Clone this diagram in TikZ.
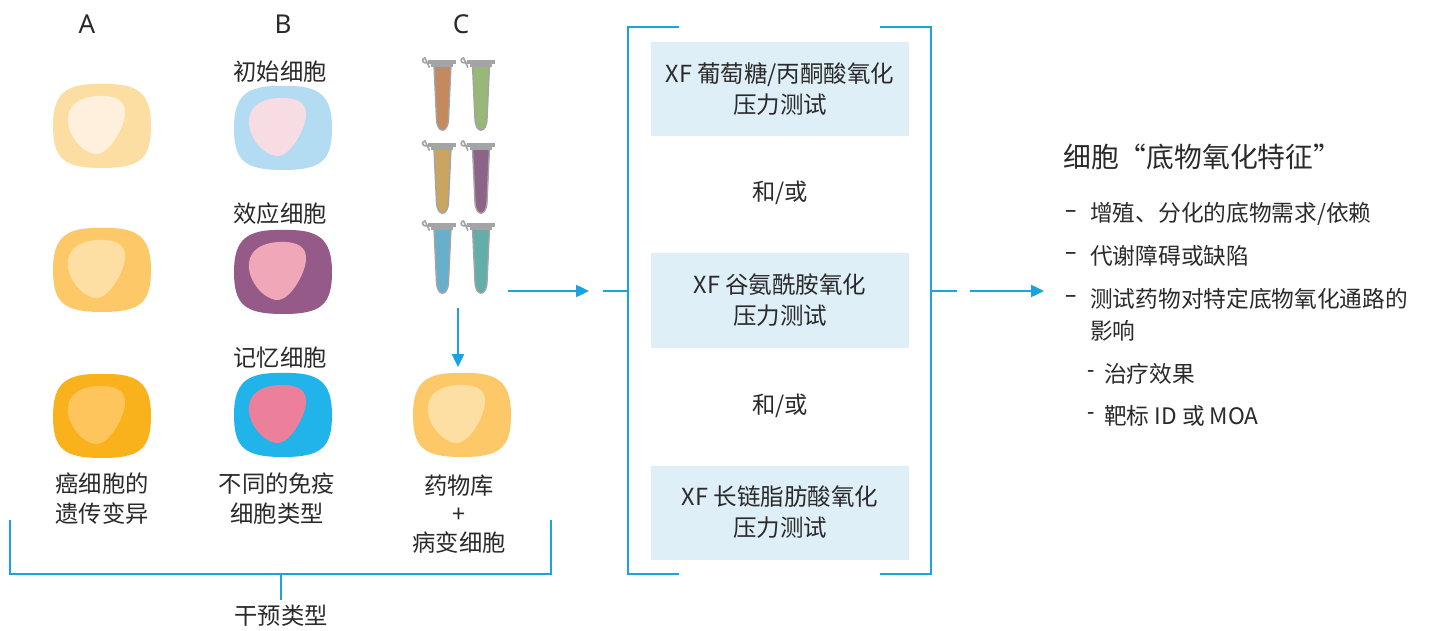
\documentclass[tikz,border=0pt]{standalone}
\usepackage{fontspec}
\setmainfont{Noto Sans CJK SC}
\newfontfamily\latinfont{Noto Sans}
\usetikzlibrary{arrows.meta}

\definecolor{txt}{HTML}{2A2A2A}
\definecolor{lineblue}{HTML}{1BA3E0}
\definecolor{boxfill}{HTML}{DFEFF8}
\definecolor{capgray}{HTML}{A3A4A6}
% cell colours
\definecolor{aOneOut}{HTML}{FDDEA2}\definecolor{aOneIn}{HTML}{FEF0DC}
\definecolor{aTwoOut}{HTML}{FDC968}\definecolor{aTwoIn}{HTML}{FDDFA4}
\definecolor{aThrOut}{HTML}{F9B11C}\definecolor{aThrIn}{HTML}{FDC55C}
\definecolor{bOneOut}{HTML}{B3DBF2}\definecolor{bOneIn}{HTML}{F8DCE3}
\definecolor{bTwoOut}{HTML}{955A87}\definecolor{bTwoIn}{HTML}{F0A7B8}
\definecolor{bThrOut}{HTML}{20B4EA}\definecolor{bThrIn}{HTML}{EC809B}
% tube colours
\definecolor{tOne}{HTML}{C48A5E}\definecolor{tTwo}{HTML}{97B876}
\definecolor{tThr}{HTML}{C9A561}\definecolor{tFou}{HTML}{8E6388}
\definecolor{tFiv}{HTML}{67AFCB}\definecolor{tSix}{HTML}{63AEA9}

% a cell: rounded outer body with a rounded-triangle nucleus
\newcommand\cellblob[4]{%
\begin{scope}[shift={(#1,#2)}]
\fill[#3] (0,-42) .. controls (36,-43) and (49,-33) .. (49,0)
  .. controls (49,33) and (38,42) .. (0,42)
  .. controls (-38,42) and (-49,33) .. (-49,0)
  .. controls (-49,-33) and (-36,-43) .. (0,-42) -- cycle;
\fill[#4] (-5,-30) .. controls (15,-31) and (24,-25) .. (23,-12)
  .. controls (22,2) and (8,26) .. (-4,28)
  .. controls (-14,29) and (-28,18) .. (-33,2)
  .. controls (-37,-12) and (-32,-28) .. (-5,-30) -- cycle;
\end{scope}}

% a sample tube: grey cap with hinge loop and a tapered coloured body
\newcommand\tubeat[3]{%
\begin{scope}[shift={(#1,#2)}]
\filldraw[draw=capgray, line width=1.4pt, fill=#3]
  (-8.5,5) -- (-6,59) .. controls (-5.5,74) and (5.5,74) .. (6,59) -- (8.5,5) -- cycle;
\draw[capgray, line width=1.6pt] (-13,2.8) -- (-17.5,2.8) arc[start angle=90, end angle=270, radius=2.4] -- (-13,7.6);
\fill[capgray] (-14.5,0) rectangle (13.5,4.5);
\fill[capgray] (-11.5,4) rectangle (10.5,7.5);
\end{scope}}

\tikzset{
  lbl/.style={text=txt, font=\fontsize{23.3}{30}\selectfont, align=center, inner sep=0pt},
  head/.style={text=txt, font=\latinfont\fontsize{26}{30}\selectfont, inner sep=0pt},
  boxtxt/.style={lbl, fill=boxfill, minimum width=258pt, minimum height=94pt, font=\fontsize{23.5}{31}\selectfont},
  item/.style={text=txt, font=\fontsize{22.7}{32}\selectfont, anchor=west, inner sep=0pt},
  dashmark/.style={item, font=\latinfont\fontsize{22.7}{32}\selectfont},
  blueline/.style={draw=lineblue, line width=2.4pt},
  bluearrow/.style={blueline, -{Triangle[length=13pt, width=12pt]}},
}

\begin{document}
\begin{tikzpicture}[x=1pt, y=-1pt]
\useasboundingbox[fill=white] (0,0) rectangle (1441,631);

% column headings
\node[head] (hA) at (87,24) {A};
\node[head] (hB) at (283,24) {B};
\node[head] (hC) at (461,24) {C};

% column A cells
\cellblob{102}{126}{aOneOut}{aOneIn}
\cellblob{102}{270}{aTwoOut}{aTwoIn}
\cellblob{102}{416}{aThrOut}{aThrIn}
\node[lbl] (labA) at (102,499) {癌细胞的\\遗传变异};

% column B cells
\node[lbl] (labB1) at (280,72) {初始细胞};
\cellblob{283}{128}{bOneOut}{bOneIn}
\node[lbl] (labB2) at (280,214) {效应细胞};
\cellblob{283}{272}{bTwoOut}{bTwoIn}
\node[lbl] (labB3) at (280,358) {记忆细胞};
\cellblob{283}{415}{bThrOut}{bThrIn}
\node[lbl] (labB) at (277,499) {不同的免疫\\细胞类型};

% column C: drug library tubes and the target cell
\tubeat{442.5}{60}{tOne}
\tubeat{481}{60}{tTwo}
\tubeat{442.5}{143}{tThr}
\tubeat{481}{143}{tFou}
\tubeat{442.5}{223}{tFiv}
\tubeat{481}{223}{tSix}
\cellblob{462}{415}{aTwoOut}{aTwoIn}
\node[lbl, font=\fontsize{23.3}{28.5}\selectfont] (labC) at (459,514) {药物库\\+\\病变细胞};

% intervention bracket
\coordinate (brL) at (10,520);
\coordinate (brR) at (551,520);
\coordinate (brStem) at (281,600);
\draw[blueline] (brL) -- (10,574) -- (551,574) -- (brR);
\draw[blueline] (281,574) -- (brStem);
\node[lbl] (labInt) at (281,616) {干预类型};

% arrows from the tubes
\coordinate (tubesDown) at (458,308);
\coordinate (cellTop) at (458,367);
\draw[bluearrow] (tubesDown) -- (cellTop);
\coordinate (tubesOut) at (508,291);
\coordinate (assayIn) at (589,291);
\draw[bluearrow] (tubesOut) -- (assayIn);

% assay bracket
\coordinate (stubL) at (603,291);
\coordinate (brkL) at (628,291);
\draw[blueline] (stubL) -- (brkL);
\draw[blueline] (679,27) -- (628,27) -- (628,574) -- (679,574);
\draw[blueline] (880,27) -- (931,27) -- (931,574) -- (880,574);

\node[boxtxt] (glu) at (780,89) {XF 葡萄糖/丙酮酸氧化\\压力测试};
\node[lbl] (or1) at (780,193) {和/或};
\node[boxtxt] (gln) at (780,300.5) {XF 谷氨酰胺氧化\\压力测试};
\node[lbl] (or2) at (780,406) {和/或};
\node[boxtxt] (fa) at (780,512.5) {XF 长链脂肪酸氧化\\压力测试};

% output arrow
\coordinate (brkR) at (931,291);
\coordinate (stubR) at (957,291);
\draw[blueline] (brkR) -- (stubR);
\coordinate (outA) at (970,291);
\coordinate (outB) at (1044,291);
\draw[bluearrow] (outA) -- (outB);

% result list
\node[item, font=\fontsize{27.8}{32}\selectfont] (title) at (1063,157) {细胞“底物氧化特征”};
\node[dashmark] (d1) at (1065,214) {–};
\node[item] (i1) at (1090,214) {增殖、分化的底物需求/依赖};
\node[dashmark] (d2) at (1065,256) {–};
\node[item] (i2) at (1090,256) {代谢障碍或缺陷};
\node[dashmark] (d3) at (1065,299) {–};
\node[item] (i3) at (1090,299) {测试药物对特定底物氧化通路的};
\node[item] (i3b) at (1090,331) {影响};
\node[dashmark] (d4) at (1087,374) {-};
\node[item] (i4) at (1104,374) {治疗效果};
\node[dashmark] (d5) at (1087,416) {-};
\node[item] (i5) at (1104,416) {靶标 ID 或 MOA};
\end{tikzpicture}
\end{document}
